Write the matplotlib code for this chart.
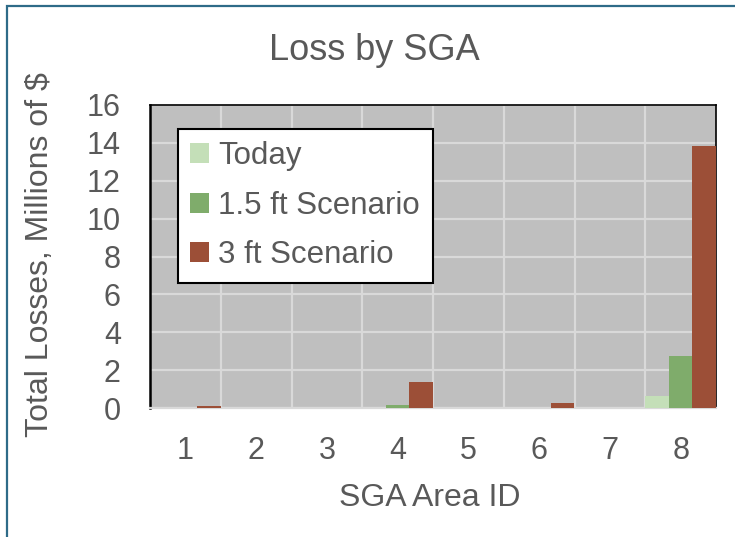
import numpy as np
import matplotlib
matplotlib.use("Agg")
import matplotlib.pyplot as plt
from matplotlib.patches import Rectangle

plt.rcParams['font.family'] = ['Liberation Sans', 'DejaVu Sans']

# Data (millions of $)
areas = ['1', '2', '3', '4', '5', '6', '7', '8']
today = [0.0, 0.0, 0.0, 0.02, 0.0, 0.0, 0.0, 0.66]
ft15 = [0.01, 0.0, 0.0, 0.18, 0.0, 0.0, 0.0, 2.76]
ft3 = [0.12, 0.0, 0.0, 1.35, 0.0, 0.24, 0.0, 13.85]

series = [('Today', today, '#c4dfb8'),
          ('1.5 ft Scenario', ft15, '#7fac6b'),
          ('3 ft Scenario', ft3, '#9c4f37')]

txt = '#595959'
fig = plt.figure(figsize=(7.35, 5.37), dpi=100)
ax = fig.add_axes([150/735, 1 - 408/537, 566/735, 303/537])
ax.set_facecolor('#bfbfbf')

x = np.arange(len(areas))
w = 1/3
for i, (name, vals, col) in enumerate(series):
    ax.bar(x + (i - 1) * w, vals, width=w, color=col, label=name, zorder=3)

ax.set_xlim(-0.5, len(areas) - 0.5)
ax.set_ylim(0, 16)
ax.set_yticks(range(0, 17, 2))
ax.set_xticks(x)
ax.set_xticklabels(areas)
ax.set_xticks(np.arange(0.5, len(areas) - 0.5), minor=True)
ax.tick_params(axis='both', which='both', length=0, labelsize=22, colors=txt)
ax.tick_params(axis='y', pad=21)
ax.tick_params(axis='x', pad=20)
ax.grid(axis='y', which='major', color='#d9d9d9', lw=1.6, zorder=1)
ax.grid(axis='x', which='minor', color='#d9d9d9', lw=1.6, zorder=1)
ax.set_axisbelow(True)

for s in ['top', 'right']:
    ax.spines[s].set_color('black')
    ax.spines[s].set_linewidth(1.2)
ax.spines['left'].set_color('black')
ax.spines['left'].set_linewidth(1.8)
ax.spines['bottom'].set_color('#d9d9d9')
ax.spines['bottom'].set_linewidth(1.6)

leg = ax.legend(loc='upper left', bbox_to_anchor=(0.049, 0.921), fontsize=22.5,
                frameon=True, fancybox=False, edgecolor='black', framealpha=1,
                handlelength=0.6, handleheight=0.6, handletextpad=0.3,
                labelspacing=0.62, borderpad=0.4, borderaxespad=0)
leg.get_frame().set_linewidth(1.5)
for t in leg.get_texts():
    t.set_color(txt)

fig.text(0.51, 1 - 50/537, 'Loss by SGA', ha='center', va='center', fontsize=26, color=txt)
fig.text(0.585, 1 - 498/537, 'SGA Area ID', ha='center', va='center', fontsize=23, color=txt)
fig.text(40/735, 1 - 255/537, 'Total Losses, Millions of $', ha='center', va='center',
         rotation=90, fontsize=23, color=txt)

fig.patches.append(Rectangle((7/735, -0.2), 2, 1.2 - 6/537, transform=fig.transFigure,
                             fill=False, edgecolor='#2e6b88', lw=1.6))

fig.savefig('out.png', dpi=100)
